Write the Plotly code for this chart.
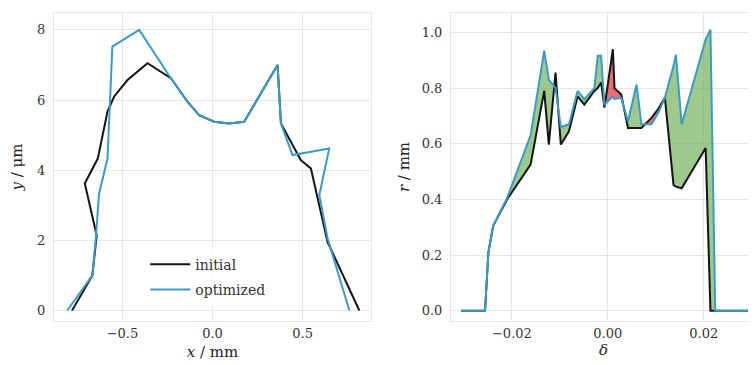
import numpy as np
import plotly.graph_objects as go
from plotly.subplots import make_subplots

# ---- left panel: profile y(x) ----
init_x = [-0.78, -0.667, -0.643, -0.709, -0.637, -0.583, -0.546, -0.472, -0.361,
          -0.231, -0.139, -0.074, 0.009, 0.093, 0.176, 0.361, 0.38, 0.49, 0.546,
          0.583, 0.639, 0.815]
init_y = [0.0, 1.0, 2.14, 3.62, 4.33, 5.67, 6.1, 6.57, 7.05,
          6.62, 5.95, 5.57, 5.38, 5.33, 5.38, 7.0, 5.33, 4.29, 4.05,
          3.19, 1.95, 0.0]

opt_x = [-0.806, -0.667, -0.648, -0.63, -0.583, -0.556, -0.407, -0.231, -0.139,
         -0.074, 0.009, 0.093, 0.176, 0.361, 0.38, 0.444, 0.648, 0.593, 0.639, 0.76]
opt_y = [0.0, 1.0, 2.05, 3.33, 4.33, 7.52, 8.0, 6.62, 5.95,
         5.57, 5.38, 5.33, 5.38, 7.0, 5.33, 4.43, 4.62, 3.29, 2.05, 0.0]

# ---- right panel: r(delta) ----
delta = [-0.0306, -0.0256, -0.0249, -0.0239, -0.0210, -0.0161, -0.01326, -0.0123,
         -0.0109, -0.0098, -0.0081, -0.0063, -0.0049, -0.0028, -0.0021, -0.0014,
         -0.0007, 0.00105, 0.0014, 0.0028, 0.0042, 0.0060, 0.0070, 0.0091, 0.0105,
         0.0119, 0.0137, 0.0142, 0.0154, 0.0204, 0.0214, 0.0224, 0.0306]
r_init = [0.0, 0.0, 0.21, 0.305, 0.40, 0.525, 0.79, 0.597,
          0.856, 0.597, 0.645, 0.77, 0.741, 0.79, 0.80, 0.82,
          0.73, 0.94, 0.80, 0.777, 0.657, 0.657, 0.657, 0.693, 0.725,
          0.765, 0.452, 0.446, 0.44, 0.585, 0.0, 0.0, 0.0]
r_opt = [0.0, 0.0, 0.21, 0.305, 0.405, 0.63, 0.935, 0.83,
         0.80, 0.66, 0.67, 0.79, 0.76, 0.80, 0.916, 0.916,
         0.74, 0.77, 0.76, 0.765, 0.68, 0.813, 0.67, 0.67, 0.71,
         0.765, 0.88, 0.92, 0.67, 0.975, 1.01, 0.0, 0.0]

BLACK = "#141414"
BLUE = "#3a9cc6"
GREEN = "rgba(110,175,85,0.68)"
RED = "rgba(232,60,70,0.75)"
FONT = "DejaVu Serif"


def fill_regions(x, a, b):
    """split the band between a and b into polygons, tagged by sign of a-b"""
    pts = []
    for i in range(len(x) - 1):
        pts.append((x[i], a[i], b[i]))
        d0, d1 = a[i] - b[i], a[i + 1] - b[i + 1]
        if d0 * d1 < 0:
            t = d0 / (d0 - d1)
            pts.append((x[i] + t * (x[i + 1] - x[i]),
                        a[i] + t * (a[i + 1] - a[i]),
                        b[i] + t * (b[i + 1] - b[i])))
    pts.append((x[-1], a[-1], b[-1]))

    runs, cur, cur_sign = [], [], 0
    for p, q in zip(pts[:-1], pts[1:]):
        s = np.sign((p[1] - p[2]) + (q[1] - q[2]))
        if s != cur_sign:
            if cur and cur_sign != 0:
                runs.append((cur_sign, cur))
            cur, cur_sign = [p], s
        cur.append(q)
    if cur and cur_sign != 0:
        runs.append((cur_sign, cur))
    return runs


fig = make_subplots(rows=1, cols=2)

fig.add_trace(go.Scatter(x=init_x, y=init_y, mode="lines", name="initial",
                         legendgroup="a",
                         line=dict(color=BLACK, width=2)), row=1, col=1)
fig.add_trace(go.Scatter(x=opt_x, y=opt_y, mode="lines", name="optimized",
                         legendgroup="b",
                         line=dict(color=BLUE, width=2)), row=1, col=1)

for sign, run in fill_regions(delta, r_opt, r_init):
    xs = [p[0] for p in run] + [p[0] for p in run[::-1]]
    ys = [p[1] for p in run] + [p[2] for p in run[::-1]]
    fig.add_trace(go.Scatter(x=xs, y=ys, mode="lines", fill="toself",
                             fillcolor=GREEN if sign > 0 else RED,
                             line=dict(width=0), showlegend=False,
                             hoverinfo="skip"), row=1, col=2)

fig.add_trace(go.Scatter(x=delta, y=r_init, mode="lines", showlegend=False,
                         line=dict(color=BLACK, width=2)), row=1, col=2)
fig.add_trace(go.Scatter(x=delta, y=r_opt, mode="lines", showlegend=False,
                         line=dict(color=BLUE, width=2)), row=1, col=2)

axis_style = dict(showgrid=True, gridcolor="#e6e6e6", gridwidth=1,
                  showline=True, linecolor="#e6e6e6", mirror=True,
                  zeroline=False, automargin=False,
                  tickfont=dict(family=FONT, size=13, color="#333333"))
# invisible tick marks just to push the y labels a little off the axis
ytick_pad = dict(ticks="outside", ticklen=5, tickcolor="white")

fig.update_layout(
    width=756, height=365,
    margin=dict(l=46, r=8, t=5, b=52),
    paper_bgcolor="white", plot_bgcolor="white",
    font=dict(family=FONT, color="#222222"),
    legend=dict(x=0.13, y=0.235, xanchor="left", yanchor="top",
                bgcolor="rgba(255,255,255,0.8)", itemwidth=40,
                font=dict(family=FONT, size=14, color="#333333"),
                tracegroupgap=4),
    xaxis=dict(domain=[0, 0.4516], range=[-0.88, 0.88], ticks="",
               tickvals=[-0.5, 0.0, 0.5], ticktext=["\u22120.5", "0.0", "0.5"],
               title=dict(text="<i>x</i> / mm", standoff=6,
                          font=dict(family=FONT, size=15)), **axis_style),
    yaxis=dict(range=[-0.3, 8.48], tickvals=[0, 2, 4, 6, 8],
               title=dict(text="<i>y</i> / \u03bcm", standoff=10,
                          font=dict(family=FONT, size=15)),
               **ytick_pad, **axis_style),
    xaxis2=dict(domain=[0.5655, 1], range=[-0.0327, 0.0309], ticks="",
                tickvals=[-0.02, 0.0, 0.02],
                ticktext=["\u22120.02", "0.00", "0.02"],
                title=dict(text="<i>\u03b4</i>", standoff=0,
                           font=dict(family=FONT, size=15)), **axis_style),
    yaxis2=dict(range=[-0.037, 1.07], tickvals=[0, 0.2, 0.4, 0.6, 0.8, 1.0],
                tickformat=".1f",
                title=dict(text="<i>r</i> / mm", standoff=8,
                           font=dict(family=FONT, size=15)),
                **ytick_pad, **axis_style),
)

fig.write_html("out.html")
